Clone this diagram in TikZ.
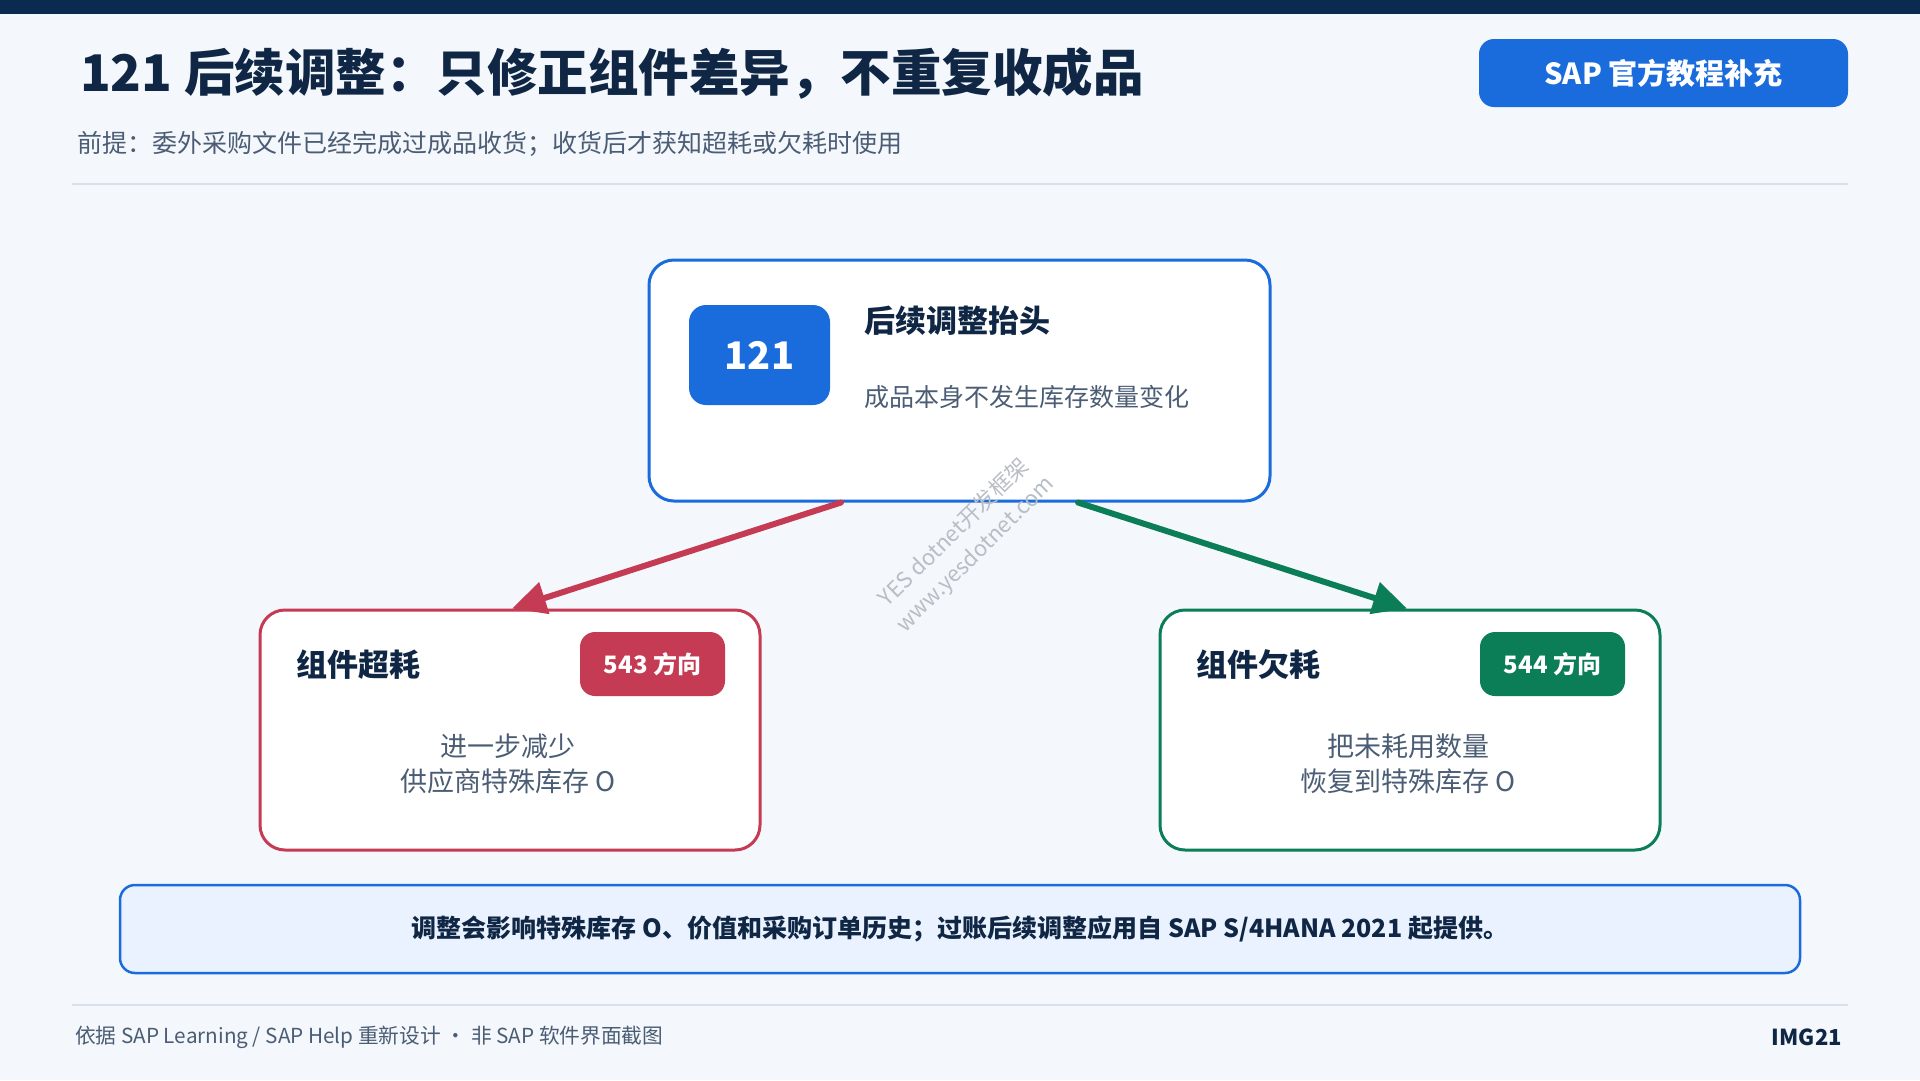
\documentclass[tikz,border=0pt]{standalone}
\usepackage{fontspec}
\setmainfont{Noto Sans CJK SC}
\usetikzlibrary{arrows.meta}
\definecolor{bgc}{HTML}{F4F7FB}
\definecolor{navy}{HTML}{0B2A4F}
\definecolor{ink}{HTML}{0F2744}
\definecolor{sapblue}{HTML}{1A6BDC}
\definecolor{redc}{HTML}{C43B53}
\definecolor{greenc}{HTML}{0B7D57}
\definecolor{graytext}{HTML}{4B5D75}
\definecolor{rulec}{HTML}{D8E0EA}
\definecolor{notefill}{HTML}{EAF2FF}
\definecolor{wmark}{HTML}{B8BEC6}
\newcommand\setfs[2]{\fontsize{#1}{#2}\selectfont}
\tikzset{
  card/.style={draw, line width=3pt, fill=white, rounded corners=25pt, minimum width=#1, inner sep=0pt},
  badge/.style={fill=#1, rounded corners=15pt, text=white, font=\setfs{24}{28}\bfseries, minimum width=145pt, minimum height=64pt, inner sep=0pt},
  bodytext/.style={text=graytext, font=\setfs{27}{35}\selectfont, align=center},
  cardtitle/.style={text=ink, font=\setfs{31}{36}\bfseries, anchor=west, inner sep=0pt},
  flow/.style={line width=6pt, line cap=round, -{Triangle[length=34pt,width=32pt]}},
  wmtext/.style={rotate=44.5, text=wmark, inner sep=0pt, font=\setfs{22}{27}\selectfont},
}
\begin{document}
\begin{tikzpicture}[x=1pt,y=-1pt]
\fill[bgc] (0,0) rectangle (1920,1080);
\useasboundingbox (0,0) rectangle (1920,1080);
\fill[navy] (0,0) rectangle (1920,14);

% header
\node[anchor=west, inner sep=0pt, text=ink, font=\setfs{50.5}{56}\bfseries] (title) at (80,73) {121 后续调整：只修正组件差异，不重复收成品};
\node[anchor=west, inner sep=0pt, text=graytext, font=\setfs{25}{30}\selectfont] (sub) at (77,144) {前提：委外采购文件已经完成过成品收货；收货后才获知超耗或欠耗时使用};
\node[fill=sapblue, rounded corners=15pt, minimum width=369pt, minimum height=68pt, inner sep=0pt, text=white, font=\setfs{29}{34}\bfseries] (btn) at (1663.5,73) {SAP 官方教程补充};
\draw[rulec, line width=2pt] (72,184) -- (1848,184);

% top card
\node[card=621pt, draw=sapblue, minimum height=241pt] (top) at (959.5,380.5) {};
\node[fill=sapblue, rounded corners=17pt, minimum width=141pt, minimum height=100pt, inner sep=0pt, text=white, font=\setfs{38}{42}\bfseries] (num) at (759.5,355) {121};
\node[cardtitle] (toptitle) at (864,321) {后续调整抬头};
\node[anchor=west, inner sep=0pt, text=graytext, font=\setfs{25}{30}\selectfont] (topsub) at (864,397) {成品本身不发生库存数量变化};

% left card
\node[card=500pt, draw=redc, minimum height=240pt] (left) at (510,730) {};
\node[cardtitle] (lefttitle) at (296,665) {组件超耗};
\node[badge=redc] (leftbadge) at (652.5,664) {543 方向};
\node[bodytext] (leftbody) at (508,763.5) {进一步减少\\供应商特殊库存 O};

% right card
\node[card=500pt, draw=greenc, minimum height=240pt] (right) at (1410,730) {};
\node[cardtitle] (righttitle) at (1196,665) {组件欠耗};
\node[badge=greenc] (rightbadge) at (1552.5,664) {544 方向};
\node[bodytext] (rightbody) at (1408,763.5) {把未耗用数量\\恢复到特殊库存 O};

% arrows
\draw[flow, redc] ([xshift=-118.5pt]top.south) -- ([xshift=2pt]left.north);
\draw[flow, greenc] ([xshift=118.5pt]top.south) -- ([xshift=-3pt]right.north);

% watermark
\node[wmtext] (wm1) at (953,532) {YES dotnet开发框架};
\node[wmtext] (wm2) at (976,555) {www.yesdotnet.com};

% note
\node[draw=sapblue, line width=2.5pt, fill=notefill, rounded corners=15pt, minimum width=1680pt, minimum height=88pt, inner sep=0pt, text=ink, font=\setfs{25}{30}\bfseries] (note) at (960,929) {调整会影响特殊库存 O、价值和采购订单历史；过账后续调整应用自 SAP S/4HANA 2021 起提供。};

% footer
\draw[rulec, line width=2pt] (72,1005) -- (1848,1005);
\node[anchor=west, inner sep=0pt, text=graytext, font=\setfs{20.7}{24}\selectfont] (foot) at (75,1037) {依据 SAP Learning / SAP Help 重新设计 · 非 SAP 软件界面截图};
\node[anchor=east, inner sep=0pt, text=ink, font=\setfs{22}{26}\bfseries] (img) at (1842,1037) {IMG21};
\end{tikzpicture}
\end{document}
